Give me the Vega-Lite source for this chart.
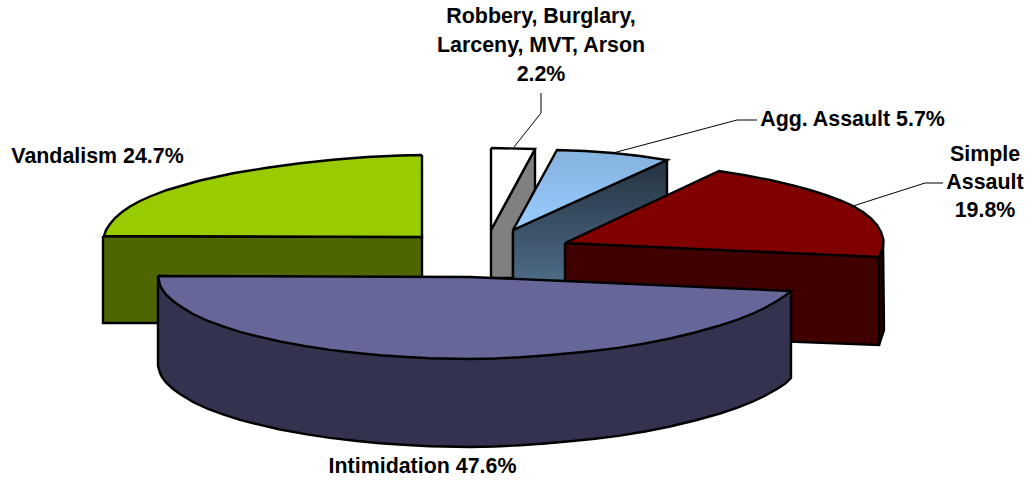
{"$schema":"https://vega.github.io/schema/vega-lite/v6.json","width":1034,"height":485,"autosize":{"type":"fit","contains":"padding"},"padding":0,"background":"white","view":{"stroke":null},
"datasets":{
"back":[
{"face":"a_green_side","x":103,"y":236},{"face":"a_green_side","x":422,"y":237},{"face":"a_green_side","x":422,"y":323},{"face":"a_green_side","x":103,"y":323},{"face":"a_green_side","x":103,"y":236},
{"face":"b_green_top","x":422,"y":155},{"face":"b_green_top","x":400,"y":155.5},{"face":"b_green_top","x":367,"y":157},{"face":"b_green_top","x":333,"y":159.7},{"face":"b_green_top","x":300,"y":163.2},{"face":"b_green_top","x":267,"y":167.7},{"face":"b_green_top","x":233,"y":173.3},{"face":"b_green_top","x":200,"y":180.5},{"face":"b_green_top","x":167,"y":190},{"face":"b_green_top","x":150,"y":196.5},{"face":"b_green_top","x":140,"y":201},{"face":"b_green_top","x":130,"y":206.5},{"face":"b_green_top","x":122,"y":212},{"face":"b_green_top","x":115,"y":218},{"face":"b_green_top","x":110,"y":224},{"face":"b_green_top","x":106,"y":230},{"face":"b_green_top","x":104,"y":236},{"face":"b_green_top","x":422,"y":237},{"face":"b_green_top","x":422,"y":155},
{"face":"c_gray_side","x":491,"y":230},{"face":"c_gray_side","x":535,"y":149},{"face":"c_gray_side","x":535,"y":190},{"face":"c_gray_side","x":513,"y":232},{"face":"c_gray_side","x":513,"y":278},{"face":"c_gray_side","x":491,"y":278},{"face":"c_gray_side","x":491,"y":230},
{"face":"d_white_top","x":491,"y":148},{"face":"d_white_top","x":535,"y":149},{"face":"d_white_top","x":491,"y":230},{"face":"d_white_top","x":491,"y":148}],
"blueSide":[{"x":513,"y":230},{"x":667,"y":160},{"x":667,"y":240},{"x":565,"y":285},{"x":513,"y":285},{"x":513,"y":230}],
"blueTop":[{"x":513,"y":230},{"x":557,"y":150},{"x":585,"y":151},{"x":613,"y":153},{"x":640,"y":156},{"x":667,"y":160},{"x":513,"y":230}],
"front":[
{"face":"e_red_side","x":565,"y":243},{"face":"e_red_side","x":879,"y":257},{"face":"e_red_side","x":879,"y":345},{"face":"e_red_side","x":565,"y":333},{"face":"e_red_side","x":565,"y":243},
{"face":"f_red_end","x":879,"y":257},{"face":"f_red_end","x":883,"y":242},{"face":"f_red_end","x":884,"y":330},{"face":"f_red_end","x":879,"y":345},{"face":"f_red_end","x":879,"y":257},
{"face":"g_red_top","x":565,"y":243},{"face":"g_red_top","x":719,"y":171},{"face":"g_red_top","x":745,"y":175.3},{"face":"g_red_top","x":770,"y":180},{"face":"g_red_top","x":793,"y":185.3},{"face":"g_red_top","x":810,"y":190},{"face":"g_red_top","x":827,"y":195.5},{"face":"g_red_top","x":841,"y":200.5},{"face":"g_red_top","x":853,"y":206},{"face":"g_red_top","x":863,"y":212},{"face":"g_red_top","x":871,"y":218.5},{"face":"g_red_top","x":877,"y":225},{"face":"g_red_top","x":881,"y":232},{"face":"g_red_top","x":883.5,"y":240},{"face":"g_red_top","x":883,"y":247},{"face":"g_red_top","x":879,"y":257},{"face":"g_red_top","x":565,"y":243},
{"face":"h_purple_side","x":158,"y":276},{"face":"h_purple_side","x":158,"y":366},{"face":"h_purple_side","x":160,"y":373},{"face":"h_purple_side","x":162,"y":377},{"face":"h_purple_side","x":166,"y":382.5},{"face":"h_purple_side","x":173,"y":389},{"face":"h_purple_side","x":180,"y":394},{"face":"h_purple_side","x":193,"y":402},{"face":"h_purple_side","x":208,"y":409},{"face":"h_purple_side","x":223,"y":414.4},{"face":"h_purple_side","x":240,"y":419.8},{"face":"h_purple_side","x":257,"y":424.2},{"face":"h_purple_side","x":280,"y":429.5},{"face":"h_purple_side","x":307,"y":434.4},{"face":"h_purple_side","x":330,"y":437.9},{"face":"h_purple_side","x":357,"y":441},{"face":"h_purple_side","x":380,"y":443.2},{"face":"h_purple_side","x":407,"y":445},{"face":"h_purple_side","x":430,"y":446.2},{"face":"h_purple_side","x":470,"y":447},{"face":"h_purple_side","x":495,"y":446.5},{"face":"h_purple_side","x":520,"y":445.3},{"face":"h_purple_side","x":545,"y":443.5},{"face":"h_purple_side","x":570,"y":441.3},{"face":"h_purple_side","x":595,"y":438.7},{"face":"h_purple_side","x":620,"y":435.6},{"face":"h_purple_side","x":645,"y":431.5},{"face":"h_purple_side","x":670,"y":426.5},{"face":"h_purple_side","x":695,"y":420.5},{"face":"h_purple_side","x":720,"y":413.5},{"face":"h_purple_side","x":737,"y":407.8},{"face":"h_purple_side","x":753,"y":401.5},{"face":"h_purple_side","x":765,"y":395.8},{"face":"h_purple_side","x":777,"y":389},{"face":"h_purple_side","x":785,"y":383.8},{"face":"h_purple_side","x":791,"y":378},{"face":"h_purple_side","x":791,"y":291},{"face":"h_purple_side","x":158,"y":276},
{"face":"i_purple_top","x":158,"y":276},{"face":"i_purple_top","x":160,"y":285},{"face":"i_purple_top","x":162,"y":289},{"face":"i_purple_top","x":166,"y":294.5},{"face":"i_purple_top","x":173,"y":301},{"face":"i_purple_top","x":180,"y":306},{"face":"i_purple_top","x":193,"y":314},{"face":"i_purple_top","x":208,"y":321},{"face":"i_purple_top","x":223,"y":326.4},{"face":"i_purple_top","x":240,"y":331.8},{"face":"i_purple_top","x":257,"y":336.2},{"face":"i_purple_top","x":280,"y":341.5},{"face":"i_purple_top","x":307,"y":346.4},{"face":"i_purple_top","x":330,"y":349.9},{"face":"i_purple_top","x":357,"y":353},{"face":"i_purple_top","x":380,"y":355.2},{"face":"i_purple_top","x":407,"y":357},{"face":"i_purple_top","x":430,"y":358.2},{"face":"i_purple_top","x":470,"y":359},{"face":"i_purple_top","x":495,"y":358.5},{"face":"i_purple_top","x":520,"y":357.3},{"face":"i_purple_top","x":545,"y":355.5},{"face":"i_purple_top","x":570,"y":353.3},{"face":"i_purple_top","x":595,"y":350.7},{"face":"i_purple_top","x":620,"y":347.6},{"face":"i_purple_top","x":645,"y":343.5},{"face":"i_purple_top","x":670,"y":338.5},{"face":"i_purple_top","x":695,"y":332.5},{"face":"i_purple_top","x":720,"y":325.5},{"face":"i_purple_top","x":737,"y":319.8},{"face":"i_purple_top","x":753,"y":313.5},{"face":"i_purple_top","x":765,"y":307.8},{"face":"i_purple_top","x":777,"y":301},{"face":"i_purple_top","x":785,"y":295.8},{"face":"i_purple_top","x":791,"y":291},{"face":"i_purple_top","x":565,"y":281},{"face":"i_purple_top","x":470,"y":277},{"face":"i_purple_top","x":158,"y":276}],
"leaders":[
{"name":"Robbery","x":541,"y":93},{"name":"Robbery","x":541,"y":113},{"name":"Robbery","x":514,"y":147},
{"name":"Agg","x":613,"y":153},{"name":"Agg","x":737,"y":120},{"name":"Agg","x":757,"y":120},
{"name":"Simple","x":853,"y":206},{"name":"Simple","x":925,"y":183},{"name":"Simple","x":943,"y":183}],
"labels":[
{"label":"Robbery, Burglary,","x":541,"y":17},
{"label":"Larceny, MVT, Arson","x":541,"y":46},
{"label":"2.2%","x":541,"y":75},
{"label":"Agg. Assault 5.7%","x":852.5,"y":120},
{"label":"Simple","x":985,"y":155},
{"label":"Assault","x":985,"y":183},
{"label":"19.8%","x":985,"y":211},
{"label":"Vandalism 24.7%","x":97.5,"y":157},
{"label":"Intimidation 47.6%","x":422.5,"y":467}]
},
"layer":[
{"data":{"name":"back"},"mark":{"type":"line","strokeWidth":2.4,"strokeJoin":"miter","stroke":"black"},
"encoding":{"x":{"field":"x","type":"quantitative","scale":{"domain":[0,1034],"nice":false,"zero":false},"axis":null},"y":{"field":"y","type":"quantitative","scale":{"domain":[485,0],"nice":false,"zero":false},"axis":null},"order":{"value":null},"fill":{"field":"face","type":"nominal","legend":null,"scale":{"domain":["a_green_side","b_green_top","c_gray_side","d_white_top"],"range":["#4d6600","#99cc00","#808080","#ffffff"]}}}},
{"data":{"name":"blueSide"},"mark":{"type":"line","strokeWidth":2.4,"stroke":"black","fill":{"gradient":"linear","x1":0,"y1":0,"x2":0,"y2":1,"stops":[{"offset":0,"color":"#243240"},{"offset":1,"color":"#4f6c88"}]}},
"encoding":{"x":{"field":"x","type":"quantitative","scale":{"domain":[0,1034],"nice":false,"zero":false},"axis":null},"y":{"field":"y","type":"quantitative","scale":{"domain":[485,0],"nice":false,"zero":false},"axis":null},"order":{"value":null}}},
{"data":{"name":"blueTop"},"mark":{"type":"line","strokeWidth":2.4,"stroke":"black","fill":{"gradient":"linear","x1":0,"y1":0,"x2":0,"y2":1,"stops":[{"offset":0,"color":"#85b2de"},{"offset":1,"color":"#99ccff"}]}},
"encoding":{"x":{"field":"x","type":"quantitative","scale":{"domain":[0,1034],"nice":false,"zero":false},"axis":null},"y":{"field":"y","type":"quantitative","scale":{"domain":[485,0],"nice":false,"zero":false},"axis":null},"order":{"value":null}}},
{"data":{"name":"front"},"mark":{"type":"line","strokeWidth":2.4,"strokeJoin":"miter","stroke":"black"},
"encoding":{"x":{"field":"x","type":"quantitative","scale":{"domain":[0,1034],"nice":false,"zero":false},"axis":null},"y":{"field":"y","type":"quantitative","scale":{"domain":[485,0],"nice":false,"zero":false},"axis":null},"order":{"value":null},"fill":{"field":"face","type":"nominal","legend":null,"scale":{"domain":["e_red_side","f_red_end","g_red_top","h_purple_side","i_purple_top"],"range":["#400000","#2a0000","#800000","#33334f","#666699"]}}}},
{"data":{"name":"leaders"},"mark":{"type":"line","strokeWidth":1,"color":"black"},
"encoding":{"x":{"field":"x","type":"quantitative","scale":{"domain":[0,1034],"nice":false,"zero":false},"axis":null},"y":{"field":"y","type":"quantitative","scale":{"domain":[485,0],"nice":false,"zero":false},"axis":null},"order":{"value":null},"detail":{"field":"name"}}},
{"data":{"name":"labels"},"mark":{"type":"text","font":"Liberation Sans","fontWeight":"bold","fontSize":21.4,"color":"black","align":"center","baseline":"middle"},
"encoding":{"x":{"field":"x","type":"quantitative","scale":{"domain":[0,1034],"nice":false,"zero":false},"axis":null},"y":{"field":"y","type":"quantitative","scale":{"domain":[485,0],"nice":false,"zero":false},"axis":null},"text":{"field":"label"}}}
],
"resolve":{"scale":{"fill":"independent"}}}
